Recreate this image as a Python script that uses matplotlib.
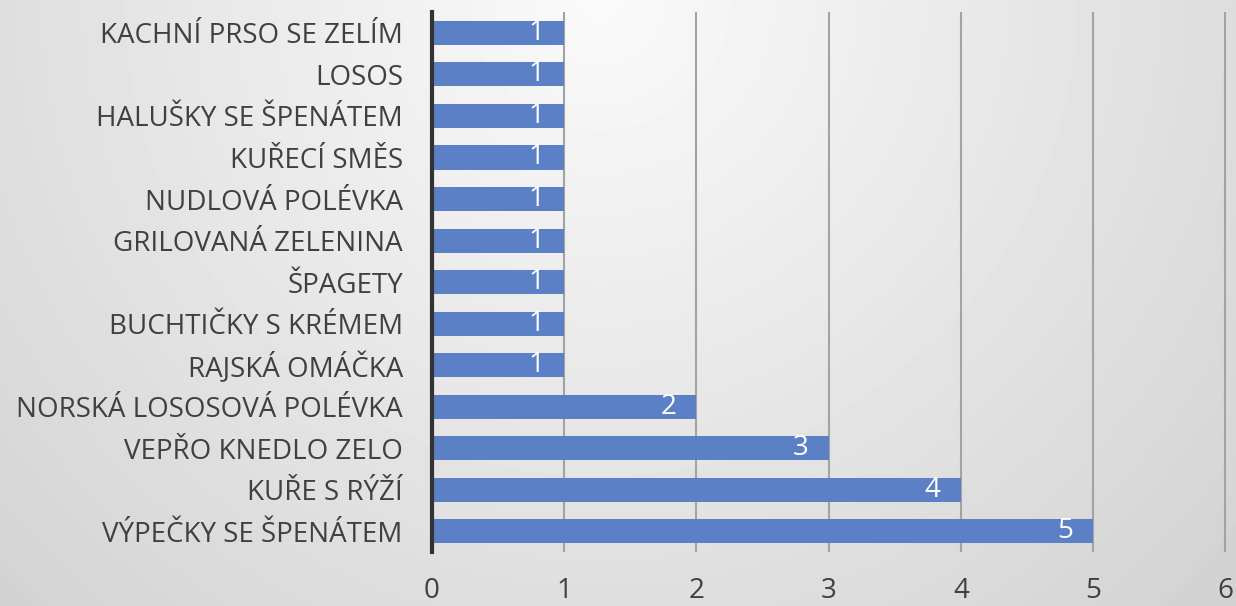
import matplotlib.pyplot as plt
import numpy as np

# categories top to bottom, as in the chart
dishes = ['KACHNÍ PRSO SE ZELÍM', 'LOSOS', 'HALUŠKY SE ŠPENÁTEM', 'KUŘECÍ SMĚS',
          'NUDLOVÁ POLÉVKA', 'GRILOVANÁ ZELENINA', 'ŠPAGETY', 'BUCHTIČKY S KRÉMEM',
          'RAJSKÁ OMÁČKA', 'NORSKÁ LOSOSOVÁ POLÉVKA', 'VEPŘO KNEDLO ZELO',
          'KUŘE S RÝŽÍ', 'VÝPEČKY SE ŠPENÁTEM']
votes = [1, 1, 1, 1, 1, 1, 1, 1, 1, 2, 3, 4, 5]
xticks = [0, 1, 2, 3, 4, 5, 6]

plt.rcParams['font.family'] = ['Open Sans', 'DejaVu Sans']

fig = plt.figure(figsize=(12.36, 6.06), dpi=100)

# radial grey background, lightest near the top middle
bg = fig.add_axes([0, 0, 1, 1], zorder=-1)
yy, xx = np.mgrid[0:606, 0:1236]
d = np.hypot(xx - 600, yy)
shade = np.clip(250 - 0.046 * d, 195, 252) / 255
bg.imshow(shade, cmap='gray', vmin=0, vmax=1, aspect='auto', interpolation='bilinear')
bg.axis('off')

ax = fig.add_axes([0.3495, 0.089, 0.643, 0.891])
ax.patch.set_alpha(0)

y = np.arange(len(dishes))
bars = ax.barh(y, votes, height=0.58, color='#5b80c6', zorder=3)
ax.bar_label(bars, padding=-26, color='white', fontsize=20, zorder=4)

ax.set_xlim(0, 6.01)
ax.set_ylim(len(dishes) - 0.5, -0.5)
ax.set_xticks(xticks)
ax.set_yticks(y)
ax.set_yticklabels(dishes)
ax.tick_params(axis='both', length=0, labelsize=20, colors='#404040')
ax.tick_params(axis='x', pad=18)
ax.tick_params(axis='y', pad=21)
ax.xaxis.grid(True, color='#a3a3a3', linewidth=1.5, zorder=1)

for s in ['top', 'right', 'bottom']:
    ax.spines[s].set_visible(False)
ax.spines['left'].set_color('#333333')
ax.spines['left'].set_linewidth(3)
ax.spines['left'].set_zorder(5)

plt.savefig('out.png', dpi=100)
